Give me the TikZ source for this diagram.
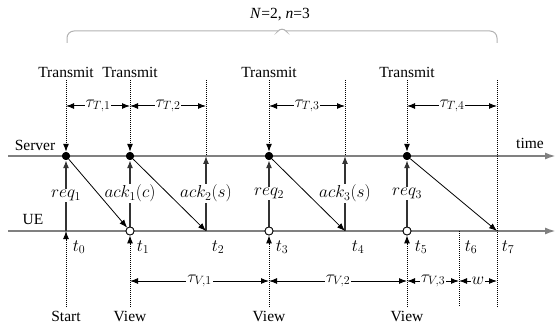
\documentclass[tikz,border=0pt]{standalone}
\usepackage{fontspec}
\setmainfont{Liberation Serif}
\usetikzlibrary{arrows.meta}
\begin{document}
\begin{tikzpicture}[x=1pt,y=-1pt,
  font=\fontsize{15.5}{18}\selectfont,
  mfont/.style={font=\fontsize{17.5}{20}\selectfont},
  tip/.style={-{Latex[length=8pt,width=6pt]}},
  axis/.style={draw=black!50, line width=2pt, -{Latex[length=11pt,width=7pt]}},
  uparr/.style={draw=black!80, line width=1.2pt, tip},
  diag/.style={draw=black, line width=0.8pt, tip},
  dots/.style={densely dotted, line width=1pt},
  dimarr/.style={line width=1pt, {Latex[length=8pt,width=6pt]}-{Latex[length=8pt,width=6pt]}},
  lab/.style={fill=white, inner sep=1pt, mfont},
  tlab/.style={mfont, inner sep=1pt},
  sdot/.style={circle, fill=black, inner sep=0pt, minimum size=8pt},
  udot/.style={circle, draw=black, fill=white, inner sep=0pt, minimum size=8pt, line width=0.8pt},
  brace/.style={draw=black!30, line width=1pt, rounded corners=7pt}
]
\useasboundingbox (0,0) rectangle (556,323);

% top coordinates
\foreach \i/\x in {0/66,1/130,2/206,3/269,4/345,5/407,7/497}{
  \coordinate (T\i) at (\x,80);
  \coordinate (a\i) at (\x,106);
}
\foreach \i/\x in {0/66,1/130,3/269,5/407,6/459,7/497}{
  \coordinate (B\i) at (\x,307);
  \coordinate (b\i) at (\x,281);
}

% axes
\coordinate (sA) at (8,156);
\coordinate (sB) at (556,156);
\coordinate (uA) at (8,231);
\coordinate (uB) at (556,231);
\draw[axis] (sA) -- (sB);
\draw[axis] (uA) -- (uB);

% server points
\node[sdot] (S0) at (66,156) {};
\node[sdot] (S1) at (130,156) {};
\coordinate (S2) at (206,156);
\node[sdot] (S3) at (269,156) {};
\coordinate (S4) at (345,156);
\node[sdot] (S5) at (407,156) {};
% UE points
\coordinate (U0) at (66,231);
\node[udot] (U1) at (130,231) {};
\coordinate (U2) at (206,231);
\node[udot] (U3) at (269,231) {};
\coordinate (U4) at (345,231);
\node[udot] (U5) at (407,231) {};
\coordinate (U6) at (459,231);
\coordinate (U7) at (497,231);

% brace
\coordinate (brL) at (67,43);
\coordinate (brR) at (497,43);
\coordinate (brT) at (282,26);
\draw[brace] (brL) -- (67,31) -- (278,31);
\draw[brace] (278,31) -- (brT) -- (286,31);
\draw[brace] (286,31) -- (497,31) -- (brR);
\node (Nn) at (280,15) {\textit{N}=2, \textit{n}=3};

% Transmit labels
\node (tr0) at (66,72) {Transmit};
\node (tr1) at (130,72) {Transmit};
\node (tr3) at (269,72) {Transmit};
\node (tr5) at (407,72) {Transmit};

% dotted down arrows
\draw[dots,tip] (T0) -- (S0);
\draw[dots,tip] (T1) -- (S1);
\draw[dots,tip] (T3) -- (S3);
\draw[dots,tip] (T5) -- (S5);
\draw[dots] (T2) -- (S2);
\draw[dots] (T4) -- (S4);
\draw[dots] (T7) -- (B7);
\draw[dots] (U6) -- (B6);

% tau_T arrows
\draw[dimarr] (a0) -- node[lab] {$\tau_{T,1}$} (a1);
\draw[dimarr] (a1) -- node[lab] {$\tau_{T,2}$} (a2);
\draw[dimarr] (a3) -- node[lab] {$\tau_{T,3}$} (a4);
\draw[dimarr] (a5) -- node[lab] {$\tau_{T,4}$} (a7);

% up arrows UE -> server
\draw[uparr] (U0) -- node[lab] {$req_1$} (S0);
\draw[uparr] (U1) -- node[lab] {$ack_1(c)$} (S1);
\draw[uparr] (U2) -- node[lab] {$ack_2(s)$} (S2);
\draw[uparr] (U3) -- node[lab] {$req_2$} (S3);
\draw[uparr] (U4) -- node[lab] {$ack_3(s)$} (S4);
\draw[uparr] (U5) -- node[lab] {$req_3$} (S5);

% diagonals server -> UE
\draw[diag] (S0) -- (U1);
\draw[diag] (S1) -- (U2);
\draw[diag] (S3) -- (U4);
\draw[diag] (S5) -- (U7);

% redraw dots on top
\node[sdot] at (S0) {};
\node[sdot] at (S1) {};
\node[sdot] at (S3) {};
\node[sdot] at (S5) {};
\node[udot] at (U1) {};
\node[udot] at (U3) {};
\node[udot] at (U5) {};

% bottom dotted up arrows
\draw[dots,tip] (B0) -- (U0);
\draw[dots,tip] (B1) -- (U1);
\draw[dots,tip] (B3) -- (U3);
\draw[dots,tip] (B5) -- (U5);

% tau_V arrows
\draw[dimarr] (b1) -- node[lab] {$\tau_{V,1}$} (b3);
\draw[dimarr] (b3) -- node[lab] {$\tau_{V,2}$} (b5);
\draw[dimarr] (b5) -- node[lab] {$\tau_{V,3}$} (b6);
\draw[dimarr] (b6) -- node[lab] {$w$} (b7);

% t labels
\node[tlab] (t0) at (79,247) {$t_0$};
\node[tlab] (t1) at (143,247) {$t_1$};
\node[tlab] (t2) at (218,247) {$t_2$};
\node[tlab] (t3) at (282,247) {$t_3$};
\node[tlab] (t4) at (358,247) {$t_4$};
\node[tlab] (t5) at (421,247) {$t_5$};
\node[tlab] (t6) at (471,247) {$t_6$};
\node[tlab] (t7) at (508,247) {$t_7$};

% side labels
\node (srv) at (35,145) {Server};
\node (ue) at (33,220) {UE};
\node (tm) at (530,143) {time};

% bottom labels
\node (st) at (66,316) {Start};
\node (v1) at (130,316) {View};
\node (v3) at (269,316) {View};
\node (v5) at (407,316) {View};
\end{tikzpicture}
\end{document}
